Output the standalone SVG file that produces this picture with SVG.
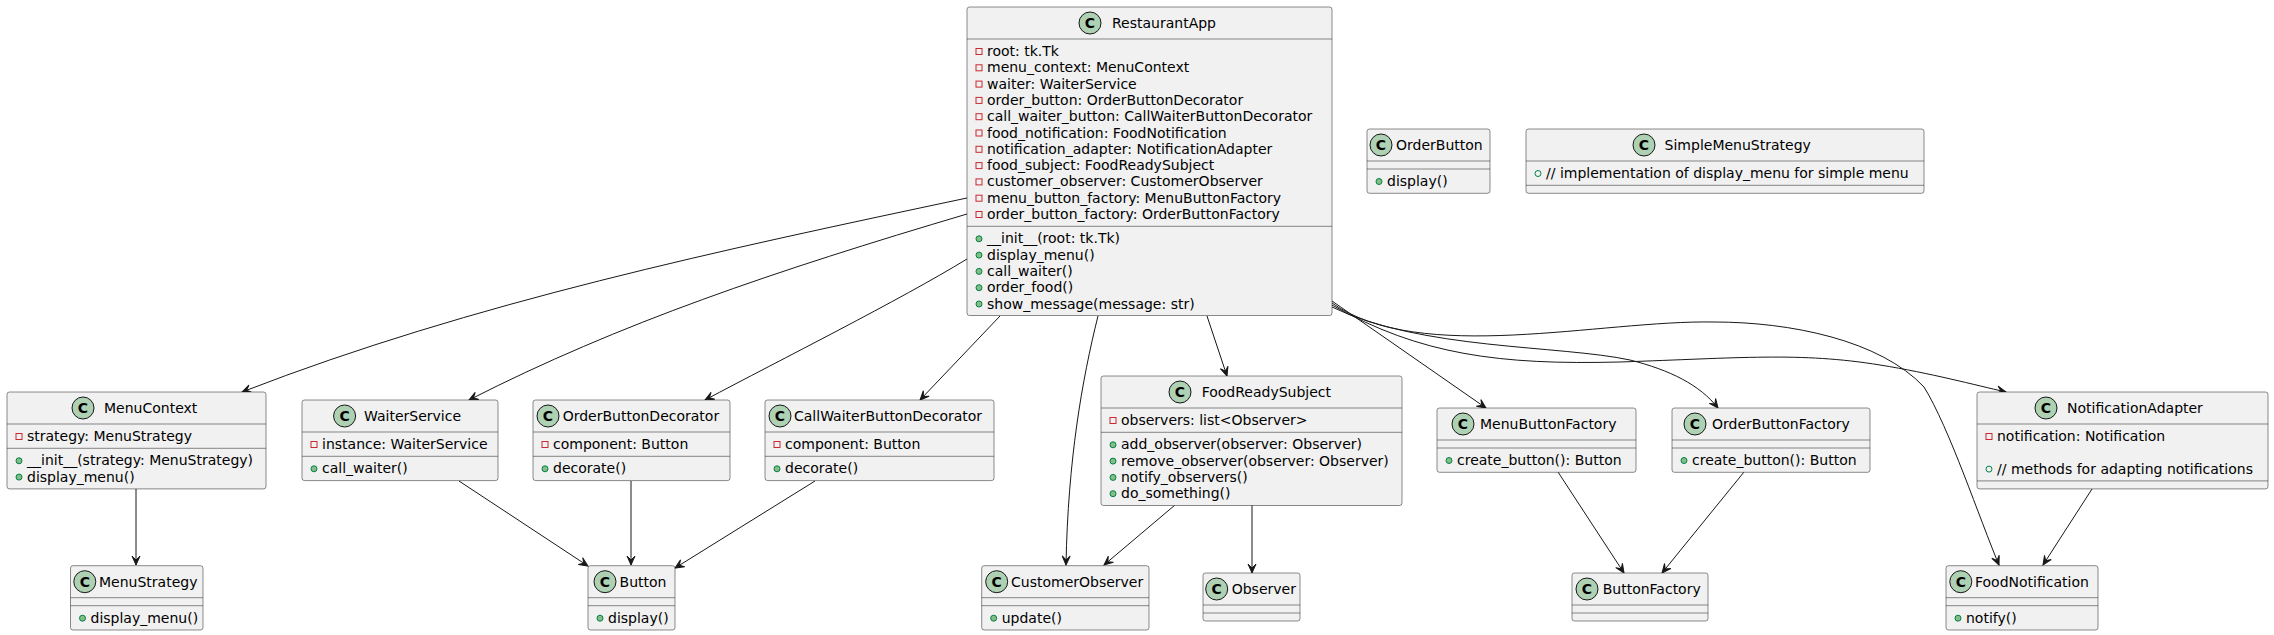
<svg xmlns="http://www.w3.org/2000/svg" width="2274" height="635" viewBox="0 0 2274 635">
<style>
.box{fill:#F1F1F1;stroke:#181818;stroke-width:0.5}
.sep{stroke:#181818;stroke-width:0.5;fill:none}
.circ{fill:#ADD1B2;stroke:#181818;stroke-width:1}
.t{font-family:"DejaVu Sans",sans-serif;font-size:14px;fill:#000000}
.c{font-family:"DejaVu Sans",sans-serif;font-size:14px;font-weight:bold;fill:#000000;text-anchor:middle}
.priv{fill:none;stroke:#C82930;stroke-width:1}
.pubm{fill:#84BE84;stroke:#038048;stroke-width:1}
.pubf{fill:none;stroke:#038048;stroke-width:1}
.edge{fill:none;stroke:#181818;stroke-width:1;marker-end:url(#arr)}
</style>
<defs>
<marker id="arr" markerUnits="userSpaceOnUse" markerWidth="10" markerHeight="10" refX="9" refY="4" orient="auto" overflow="visible">
<path d="M0,0 L9,4 L0,8 L4,4 Z" fill="#181818" stroke="#181818" stroke-width="1" stroke-linejoin="miter"/>
</marker>
</defs>
<g id="edges">
<path class="edge" d="M967,198 C722,250 474,302 242,392"/>
<path class="edge" d="M967,214 C775,271 620,323 469,400"/>
<path class="edge" d="M967,259 C900,300 780,360 705,400"/>
<path class="edge" d="M1000,316 L920,400"/>
<path class="edge" d="M1098,316 C1082,380 1068,460 1066,565"/>
<path class="edge" d="M1207,316 L1227,376"/>
<path class="edge" d="M1332,301 L1486,408"/>
<path class="edge" d="M1332,307 C1420,350 1560,345 1630,360 C1670,370 1700,385 1718,408"/>
<path class="edge" d="M1332,305 C1420,355 1500,365 1620,362 C1740,358 1800,352 1880,365 C1930,373 1975,385 2006,392"/>
<path class="edge" d="M1332,303 C1420,365 1600,320 1714,322 C1790,322 1880,340 1924,387 C1949,427 1980,520 1999,565"/>
<path class="edge" d="M136,489 L136,565"/>
<path class="edge" d="M459,481 L588,566"/>
<path class="edge" d="M631,481 L631,565"/>
<path class="edge" d="M815,481 L675,568"/>
<path class="edge" d="M1175,505 L1104,565"/>
<path class="edge" d="M1252,505 L1252,573"/>
<path class="edge" d="M1558,472 L1624,573"/>
<path class="edge" d="M1744,472 L1662,573"/>
<path class="edge" d="M2092,489 L2043,565"/>
</g>
<g id="RestaurantApp">
<rect class="box" x="967" y="7" width="365" height="308.5" rx="2.5"/>
<circle class="circ" cx="1090" cy="23" r="11"/><text class="c" x="1090" y="28">C</text>
<text class="t" x="1112" y="28">RestaurantApp</text>
<line class="sep" x1="967" y1="39" x2="1332" y2="39"/>
<line class="sep" x1="967" y1="226.3" x2="1332" y2="226.3"/>
<rect class="priv" x="976" y="48.5" width="6" height="6"/><text class="t" x="987" y="56">root: tk.Tk</text>
<rect class="priv" x="976" y="64.8" width="6" height="6"/><text class="t" x="987" y="72.3">menu_context: MenuContext</text>
<rect class="priv" x="976" y="81.1" width="6" height="6"/><text class="t" x="987" y="88.6">waiter: WaiterService</text>
<rect class="priv" x="976" y="97.4" width="6" height="6"/><text class="t" x="987" y="104.9">order_button: OrderButtonDecorator</text>
<rect class="priv" x="976" y="113.7" width="6" height="6"/><text class="t" x="987" y="121.2">call_waiter_button: CallWaiterButtonDecorator</text>
<rect class="priv" x="976" y="130" width="6" height="6"/><text class="t" x="987" y="137.5">food_notification: FoodNotification</text>
<rect class="priv" x="976" y="146.3" width="6" height="6"/><text class="t" x="987" y="153.8">notification_adapter: NotificationAdapter</text>
<rect class="priv" x="976" y="162.6" width="6" height="6"/><text class="t" x="987" y="170.1">food_subject: FoodReadySubject</text>
<rect class="priv" x="976" y="178.9" width="6" height="6"/><text class="t" x="987" y="186.4">customer_observer: CustomerObserver</text>
<rect class="priv" x="976" y="195.2" width="6" height="6"/><text class="t" x="987" y="202.7">menu_button_factory: MenuButtonFactory</text>
<rect class="priv" x="976" y="211.5" width="6" height="6"/><text class="t" x="987" y="219">order_button_factory: OrderButtonFactory</text>
<circle class="pubm" cx="979" cy="238.8" r="3"/><text class="t" x="987" y="243.3">__init__(root: tk.Tk)</text>
<circle class="pubm" cx="979" cy="255.1" r="3"/><text class="t" x="987" y="259.6">display_menu()</text>
<circle class="pubm" cx="979" cy="271.4" r="3"/><text class="t" x="987" y="275.9">call_waiter()</text>
<circle class="pubm" cx="979" cy="287.7" r="3"/><text class="t" x="987" y="292.2">order_food()</text>
<circle class="pubm" cx="979" cy="304" r="3"/><text class="t" x="987" y="308.5">show_message(message: str)</text>
</g>
<g id="OrderButton">
<rect class="box" x="1367" y="129" width="123" height="64.3" rx="2.5"/>
<circle class="circ" cx="1381" cy="145" r="11"/><text class="c" x="1381" y="150">C</text>
<text class="t" x="1396" y="150">OrderButton</text>
<line class="sep" x1="1367" y1="161" x2="1490" y2="161"/>
<line class="sep" x1="1367" y1="169" x2="1490" y2="169"/>
<circle class="pubm" cx="1379" cy="181.5" r="3"/><text class="t" x="1387" y="186">display()</text>
</g>
<g id="SimpleMenuStrategy">
<rect class="box" x="1526" y="129" width="398" height="64.3" rx="2.5"/>
<circle class="circ" cx="1644" cy="145" r="11"/><text class="c" x="1644" y="150">C</text>
<text class="t" x="1664.6" y="150">SimpleMenuStrategy</text>
<line class="sep" x1="1526" y1="161" x2="1924" y2="161"/>
<line class="sep" x1="1526" y1="185.3" x2="1924" y2="185.3"/>
<circle class="pubf" cx="1538" cy="173.5" r="3"/><text class="t" x="1546" y="178">// implementation of display_menu for simple menu</text>
</g>
<g id="MenuContext">
<rect class="box" x="7" y="392" width="259" height="96.9" rx="2.5"/>
<circle class="circ" cx="83" cy="408" r="11"/><text class="c" x="83" y="413">C</text>
<text class="t" x="104" y="413">MenuContext</text>
<line class="sep" x1="7" y1="424" x2="266" y2="424"/>
<line class="sep" x1="7" y1="448.3" x2="266" y2="448.3"/>
<rect class="priv" x="16" y="433.5" width="6" height="6"/><text class="t" x="27" y="441">strategy: MenuStrategy</text>
<circle class="pubm" cx="19" cy="460.8" r="3"/><text class="t" x="27" y="465.3">__init__(strategy: MenuStrategy)</text>
<circle class="pubm" cx="19" cy="477.1" r="3"/><text class="t" x="27" y="481.6">display_menu()</text>
</g>
<g id="WaiterService">
<rect class="box" x="302" y="400" width="196" height="80.6" rx="2.5"/>
<circle class="circ" cx="344.6" cy="416" r="11"/><text class="c" x="344.6" y="421">C</text>
<text class="t" x="364" y="421">WaiterService</text>
<line class="sep" x1="302" y1="432" x2="498" y2="432"/>
<line class="sep" x1="302" y1="456.3" x2="498" y2="456.3"/>
<rect class="priv" x="311" y="441.5" width="6" height="6"/><text class="t" x="322" y="449">instance: WaiterService</text>
<circle class="pubm" cx="314" cy="468.8" r="3"/><text class="t" x="322" y="473.3">call_waiter()</text>
</g>
<g id="OrderButtonDecorator">
<rect class="box" x="533" y="400" width="197" height="80.6" rx="2.5"/>
<circle class="circ" cx="548" cy="416" r="11"/><text class="c" x="548" y="421">C</text>
<text class="t" x="562.7" y="421">OrderButtonDecorator</text>
<line class="sep" x1="533" y1="432" x2="730" y2="432"/>
<line class="sep" x1="533" y1="456.3" x2="730" y2="456.3"/>
<rect class="priv" x="542" y="441.5" width="6" height="6"/><text class="t" x="553" y="449">component: Button</text>
<circle class="pubm" cx="545" cy="468.8" r="3"/><text class="t" x="553" y="473.3">decorate()</text>
</g>
<g id="CallWaiterButtonDecorator">
<rect class="box" x="765" y="400" width="229" height="80.6" rx="2.5"/>
<circle class="circ" cx="780" cy="416" r="11"/><text class="c" x="780" y="421">C</text>
<text class="t" x="794" y="421">CallWaiterButtonDecorator</text>
<line class="sep" x1="765" y1="432" x2="994" y2="432"/>
<line class="sep" x1="765" y1="456.3" x2="994" y2="456.3"/>
<rect class="priv" x="774" y="441.5" width="6" height="6"/><text class="t" x="785" y="449">component: Button</text>
<circle class="pubm" cx="777" cy="468.8" r="3"/><text class="t" x="785" y="473.3">decorate()</text>
</g>
<g id="FoodReadySubject">
<rect class="box" x="1101" y="376" width="301" height="129.5" rx="2.5"/>
<circle class="circ" cx="1180" cy="392" r="11"/><text class="c" x="1180" y="397">C</text>
<text class="t" x="1201.7" y="397">FoodReadySubject</text>
<line class="sep" x1="1101" y1="408" x2="1402" y2="408"/>
<line class="sep" x1="1101" y1="432.3" x2="1402" y2="432.3"/>
<rect class="priv" x="1110" y="417.5" width="6" height="6"/><text class="t" x="1121" y="425">observers: list&lt;Observer&gt;</text>
<circle class="pubm" cx="1113" cy="444.8" r="3"/><text class="t" x="1121" y="449.3">add_observer(observer: Observer)</text>
<circle class="pubm" cx="1113" cy="461.1" r="3"/><text class="t" x="1121" y="465.6">remove_observer(observer: Observer)</text>
<circle class="pubm" cx="1113" cy="477.4" r="3"/><text class="t" x="1121" y="481.9">notify_observers()</text>
<circle class="pubm" cx="1113" cy="493.7" r="3"/><text class="t" x="1121" y="498.2">do_something()</text>
</g>
<g id="MenuButtonFactory">
<rect class="box" x="1437" y="408" width="199" height="64.3" rx="2.5"/>
<circle class="circ" cx="1463" cy="424" r="11"/><text class="c" x="1463" y="429">C</text>
<text class="t" x="1480" y="429">MenuButtonFactory</text>
<line class="sep" x1="1437" y1="440" x2="1636" y2="440"/>
<line class="sep" x1="1437" y1="448" x2="1636" y2="448"/>
<circle class="pubm" cx="1449" cy="460.5" r="3"/><text class="t" x="1457" y="465">create_button(): Button</text>
</g>
<g id="OrderButtonFactory">
<rect class="box" x="1672" y="408" width="198" height="64.3" rx="2.5"/>
<circle class="circ" cx="1695" cy="424" r="11"/><text class="c" x="1695" y="429">C</text>
<text class="t" x="1712" y="429">OrderButtonFactory</text>
<line class="sep" x1="1672" y1="440" x2="1870" y2="440"/>
<line class="sep" x1="1672" y1="448" x2="1870" y2="448"/>
<circle class="pubm" cx="1684" cy="460.5" r="3"/><text class="t" x="1692" y="465">create_button(): Button</text>
</g>
<g id="NotificationAdapter">
<rect class="box" x="1977" y="392" width="291" height="96.9" rx="2.5"/>
<circle class="circ" cx="2046" cy="408" r="11"/><text class="c" x="2046" y="413">C</text>
<text class="t" x="2067" y="413">NotificationAdapter</text>
<line class="sep" x1="1977" y1="424" x2="2268" y2="424"/>
<line class="sep" x1="1977" y1="480.9" x2="2268" y2="480.9"/>
<rect class="priv" x="1986" y="433.5" width="6" height="6"/><text class="t" x="1997" y="441">notification: Notification</text>
<circle class="pubf" cx="1989" cy="469.1" r="3"/><text class="t" x="1997" y="473.6">// methods for adapting notifications</text>
</g>
<g id="MenuStrategy">
<rect class="box" x="70.5" y="565.7" width="132.5" height="64.3" rx="2.5"/>
<circle class="circ" cx="84.8" cy="581.7" r="11"/><text class="c" x="84.8" y="586.7">C</text>
<text class="t" x="99" y="586.7">MenuStrategy</text>
<line class="sep" x1="70.5" y1="597.7" x2="203" y2="597.7"/>
<line class="sep" x1="70.5" y1="605.7" x2="203" y2="605.7"/>
<circle class="pubm" cx="82.5" cy="618.2" r="3"/><text class="t" x="90.5" y="622.7">display_menu()</text>
</g>
<g id="Button">
<rect class="box" x="588" y="565.7" width="87" height="64.3" rx="2.5"/>
<circle class="circ" cx="605" cy="581.7" r="11"/><text class="c" x="605" y="586.7">C</text>
<text class="t" x="619.6" y="586.7">Button</text>
<line class="sep" x1="588" y1="597.7" x2="675" y2="597.7"/>
<line class="sep" x1="588" y1="605.7" x2="675" y2="605.7"/>
<circle class="pubm" cx="600" cy="618.2" r="3"/><text class="t" x="608" y="622.7">display()</text>
</g>
<g id="CustomerObserver">
<rect class="box" x="981.7" y="565.7" width="167.3" height="64.3" rx="2.5"/>
<circle class="circ" cx="996.7" cy="581.7" r="11"/><text class="c" x="996.7" y="586.7">C</text>
<text class="t" x="1011" y="586.7">CustomerObserver</text>
<line class="sep" x1="981.7" y1="597.7" x2="1149" y2="597.7"/>
<line class="sep" x1="981.7" y1="605.7" x2="1149" y2="605.7"/>
<circle class="pubm" cx="993.7" cy="618.2" r="3"/><text class="t" x="1001.7" y="622.7">update()</text>
</g>
<g id="Observer">
<rect class="box" x="1203" y="573" width="97" height="48" rx="2.5"/>
<circle class="circ" cx="1216.7" cy="589" r="11"/><text class="c" x="1216.7" y="594">C</text>
<text class="t" x="1231.7" y="594">Observer</text>
<line class="sep" x1="1203" y1="605" x2="1300" y2="605"/>
<line class="sep" x1="1203" y1="613" x2="1300" y2="613"/>
</g>
<g id="ButtonFactory">
<rect class="box" x="1572" y="573" width="136" height="48" rx="2.5"/>
<circle class="circ" cx="1587" cy="589" r="11"/><text class="c" x="1587" y="594">C</text>
<text class="t" x="1602.7" y="594">ButtonFactory</text>
<line class="sep" x1="1572" y1="605" x2="1708" y2="605"/>
<line class="sep" x1="1572" y1="613" x2="1708" y2="613"/>
</g>
<g id="FoodNotification">
<rect class="box" x="1946" y="565.7" width="152" height="64.3" rx="2.5"/>
<circle class="circ" cx="1960.8" cy="581.7" r="11"/><text class="c" x="1960.8" y="586.7">C</text>
<text class="t" x="1975" y="586.7">FoodNotification</text>
<line class="sep" x1="1946" y1="597.7" x2="2098" y2="597.7"/>
<line class="sep" x1="1946" y1="605.7" x2="2098" y2="605.7"/>
<circle class="pubm" cx="1958" cy="618.2" r="3"/><text class="t" x="1966" y="622.7">notify()</text>
</g>
</svg>
